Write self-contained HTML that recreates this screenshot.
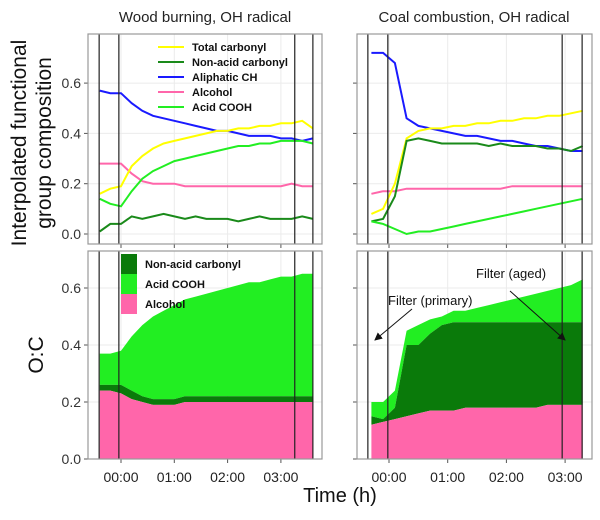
<!DOCTYPE html>
<html><head><meta charset="utf-8"><style>
body{margin:0;background:#fff;}
svg text{font-family:"Liberation Sans",sans-serif;}
</style></head><body>
<svg id="c" width="600" height="515" xmlns="http://www.w3.org/2000/svg"></svg>
<script>
const tL=[-0.4,-0.2,0,0.2,0.4,0.6,0.8,1.0,1.2,1.4,1.6,1.8,2.0,2.2,2.4,2.6,2.8,3.0,3.2,3.4,3.6];
const tR=[-0.3,-0.1,0.1,0.3,0.5,0.7,0.9,1.1,1.3,1.5,1.7,1.9,2.1,2.3,2.5,2.7,2.9,3.1,3.3];
const woodTotalCarbonyl=[0.16,0.18,0.19,0.27,0.31,0.34,0.36,0.37,0.38,0.39,0.40,0.41,0.41,0.42,0.42,0.43,0.43,0.44,0.44,0.45,0.42];
const woodNonAcid=[0.01,0.04,0.04,0.07,0.06,0.07,0.08,0.07,0.06,0.07,0.06,0.06,0.06,0.05,0.06,0.07,0.06,0.06,0.06,0.07,0.06];
const woodAliphatic=[0.57,0.56,0.56,0.52,0.49,0.47,0.46,0.45,0.44,0.43,0.42,0.41,0.41,0.40,0.39,0.39,0.39,0.38,0.38,0.37,0.38];
const woodAlcohol=[0.28,0.28,0.28,0.24,0.21,0.20,0.20,0.20,0.19,0.19,0.19,0.19,0.19,0.19,0.19,0.19,0.19,0.19,0.20,0.19,0.19];
const woodAcid=[0.14,0.12,0.11,0.17,0.22,0.25,0.27,0.29,0.30,0.31,0.32,0.33,0.34,0.35,0.35,0.36,0.36,0.37,0.37,0.37,0.36];
const coalTotalCarbonyl=[0.08,0.10,0.20,0.38,0.41,0.42,0.42,0.43,0.43,0.44,0.44,0.45,0.45,0.46,0.46,0.47,0.47,0.48,0.49];
const coalNonAcid=[0.05,0.06,0.15,0.37,0.38,0.37,0.36,0.36,0.36,0.36,0.35,0.36,0.35,0.35,0.35,0.34,0.34,0.33,0.35];
const coalAliphatic=[0.72,0.72,0.68,0.46,0.43,0.42,0.41,0.40,0.39,0.39,0.38,0.37,0.37,0.36,0.35,0.35,0.34,0.33,0.33];
const coalAlcohol=[0.16,0.17,0.17,0.18,0.18,0.18,0.18,0.18,0.18,0.18,0.18,0.18,0.19,0.19,0.19,0.19,0.19,0.19,0.19];
const coalAcid=[0.05,0.04,0.02,0.00,0.01,0.01,0.02,0.03,0.04,0.05,0.06,0.07,0.08,0.09,0.10,0.11,0.12,0.13,0.14];
const ocWoodAlcohol=[0.24,0.24,0.23,0.21,0.20,0.19,0.19,0.19,0.20,0.20,0.20,0.20,0.20,0.20,0.20,0.20,0.20,0.20,0.20,0.20,0.20];
const ocWoodNonAcid=[0.02,0.02,0.03,0.03,0.02,0.02,0.02,0.02,0.02,0.02,0.02,0.02,0.02,0.02,0.02,0.02,0.02,0.02,0.02,0.02,0.02];
const ocWoodAcid=[0.11,0.11,0.12,0.19,0.25,0.29,0.31,0.33,0.34,0.35,0.36,0.37,0.38,0.39,0.40,0.40,0.41,0.42,0.42,0.43,0.43];
const ocCoalAlcohol=[0.12,0.13,0.14,0.15,0.16,0.17,0.17,0.17,0.18,0.18,0.18,0.18,0.18,0.18,0.18,0.19,0.19,0.19,0.19];
const ocCoalNonAcid=[0.03,0.01,0.04,0.25,0.24,0.27,0.30,0.31,0.30,0.30,0.30,0.30,0.30,0.30,0.30,0.29,0.29,0.29,0.29];
const ocCoalAcid=[0.05,0.06,0.06,0.05,0.07,0.05,0.03,0.04,0.04,0.05,0.06,0.07,0.08,0.09,0.10,0.11,0.12,0.13,0.15];
const yTicks=[0.0,0.2,0.4,0.6];
const xTicks=[0,1,2,3];
const xTickLabels=["00:00","01:00","02:00","03:00"];

const S=document.getElementById('c');const NS="http://www.w3.org/2000/svg";
function mk(tag,at,parent){const e=document.createElementNS(NS,tag);for(const k in at)e.setAttribute(k,at[k]);(parent||S).appendChild(e);return e;}
function txt(x,y,s,at){const e=mk('text',Object.assign({x:x,y:y},at||{}));e.textContent=s;return e;}

const panels={
 wood:{x0:88,x1:322,xz:121,xs:53.3,lines:[-0.41,-0.04,3.26,3.6]},
 coal:{x0:357,x1:592,xz:389,xs:58.7,lines:[-0.36,-0.02,2.95,3.29]}
};
const rTop={y0:34,y1:244,yz:234,ys:251.5}, rBot={y0:251,y1:459,yz:459,ys:285};

function frame(p,r,name,showY,showX){
 const g=mk('g',{});
 
 
 mk('rect',{x:p.x0,y:r.y0,width:p.x1-p.x0,height:r.y1-r.y0,fill:'#fff'},g);
 yTicks.forEach(v=>{const y=r.yz-v*r.ys;mk('line',{x1:p.x0,x2:p.x1,y1:y,y2:y,stroke:'#ebebeb','stroke-width':1},g);
  mk('line',{x1:p.x0-4,x2:p.x0,y1:y,y2:y,stroke:'#555'},g);
  if(showY){const t=txt(p.x0-7,y+5,v.toFixed(1),{'text-anchor':'end','font-size':14,fill:'#333'});}});
 xTicks.forEach((v,i)=>{const x=p.xz+v*p.xs;mk('line',{x1:x,x2:x,y1:r.y0,y2:r.y1,stroke:'#ebebeb'},g);
  mk('line',{x1:x,x2:x,y1:r.y1,y2:r.y1+4,stroke:'#555'},g);
  if(showX){const t=txt(x,r.y1+23,xTickLabels[i],{'text-anchor':'middle','font-size':14,fill:'#222'});}});
 return g;
}
function finish(p,r){
 p.lines.forEach(v=>{const x=p.xz+v*p.xs;const l=mk('line',{x1:x,x2:x,y1:r.y0,y2:r.y1,stroke:'#222','stroke-width':1.2});});
 mk('rect',{x:p.x0,y:r.y0,width:p.x1-p.x0,height:r.y1-r.y0,fill:'none',stroke:'#999','stroke-width':1.2});
}
function line(p,r,ts,vs,color,name){
 const d=ts.map((t,i)=>(i?'L':'M')+(p.xz+t*p.xs).toFixed(1)+','+(r.yz-vs[i]*r.ys).toFixed(1)).join('');
 const e=mk('path',{d:d,fill:'none',stroke:color,'stroke-width':2});
 
 
}
function area(p,r,ts,lo,hi,color,name){
 const up=ts.map((t,i)=>(i?'L':'M')+(p.xz+t*p.xs).toFixed(1)+','+(r.yz-hi[i]*r.ys).toFixed(1)).join('');
 const dn=ts.slice().reverse().map((t,j)=>{const i=ts.length-1-j;return 'L'+(p.xz+t*p.xs).toFixed(1)+','+(r.yz-lo[i]*r.ys).toFixed(1);}).join('');
 const e=mk('path',{d:up+dn+'Z',fill:color});
 
 
}
const C={tot:'#ffff00',non:'#1a8a1a',ali:'#1a1aff',alc:'#ff66aa',acid:'#22ee22'};
frame(panels.wood,rTop,'wood-fg-panel',true,false);
line(panels.wood,rTop,tL,woodAlcohol,C.alc,'wood-alcohol-line');
line(panels.wood,rTop,tL,woodAliphatic,C.ali,'wood-aliphatic-line');
line(panels.wood,rTop,tL,woodTotalCarbonyl,C.tot,'wood-total-carbonyl-line');
line(panels.wood,rTop,tL,woodAcid,C.acid,'wood-acid-line');
line(panels.wood,rTop,tL,woodNonAcid,C.non,'wood-nonacid-line');
finish(panels.wood,rTop);
frame(panels.coal,rTop,'coal-fg-panel',false,false);
line(panels.coal,rTop,tR,coalAlcohol,C.alc,'coal-alcohol-line');
line(panels.coal,rTop,tR,coalAliphatic,C.ali,'coal-aliphatic-line');
line(panels.coal,rTop,tR,coalTotalCarbonyl,C.tot,'coal-total-carbonyl-line');
line(panels.coal,rTop,tR,coalNonAcid,C.non,'coal-nonacid-line');
line(panels.coal,rTop,tR,coalAcid,C.acid,'coal-acid-line');
finish(panels.coal,rTop);
function stack(p,ts,alc,non,acid,pre){
 const z=ts.map(()=>0),a1=alc.slice(),a2=alc.map((v,i)=>v+non[i]),a3=a2.map((v,i)=>v+acid[i]);
 area(p,rBot,ts,a2,a3,C.acid,pre+'-acid-area');
 area(p,rBot,ts,a1,a2,'#0a7a0a',pre+'-nonacid-area');
 area(p,rBot,ts,z,a1,C.alc,pre+'-alcohol-area');
}
frame(panels.wood,rBot,'wood-oc-panel',true,true);
stack(panels.wood,tL,ocWoodAlcohol,ocWoodNonAcid,ocWoodAcid,'wood');
finish(panels.wood,rBot);
frame(panels.coal,rBot,'coal-oc-panel',false,true);
stack(panels.coal,tR,ocCoalAlcohol,ocCoalNonAcid,ocCoalAcid,'coal');
finish(panels.coal,rBot);
</script>
<svg width="600" height="515" style="position:absolute;left:0;top:0" xmlns="http://www.w3.org/2000/svg">
<text x="205" y="22" text-anchor="middle" font-size="15" fill="#222">Wood burning, OH radical</text>
<text x="474" y="22" text-anchor="middle" font-size="15" fill="#222">Coal combustion, OH radical</text>
<g transform="translate(26,143) rotate(-90)">
<text x="0" y="0" text-anchor="middle" font-size="21" fill="#111">Interpolated functional</text>
<text x="0" y="25" text-anchor="middle" font-size="21" fill="#111">group composition</text></g>
<text transform="translate(43,355) rotate(-90)" text-anchor="middle" font-size="21" fill="#111">O:C</text>
<text x="340" y="502" text-anchor="middle" font-size="20" fill="#111">Time (h)</text>
<g font-size="11" font-weight="bold" fill="#111">
<line x1="158" x2="184" y1="47" y2="47" stroke="#ffff00" stroke-width="2"/><text x="192" y="51">Total carbonyl</text>
<line x1="158" x2="184" y1="62" y2="62" stroke="#1a8a1a" stroke-width="2"/><text x="192" y="66">Non-acid carbonyl</text>
<line x1="158" x2="184" y1="77" y2="77" stroke="#1a1aff" stroke-width="2"/><text x="192" y="81">Aliphatic CH</text>
<line x1="158" x2="184" y1="92" y2="92" stroke="#ff66aa" stroke-width="2"/><text x="192" y="96">Alcohol</text>
<line x1="158" x2="184" y1="107" y2="107" stroke="#22ee22" stroke-width="2"/><text x="192" y="111">Acid COOH</text></g>
<g font-size="11" font-weight="bold" fill="#111">
<rect x="121" y="254" width="16" height="20" fill="#0a7a0a"/><text x="145" y="268">Non-acid carbonyl</text>
<rect x="121" y="274" width="16" height="20" fill="#22ee22"/><text x="145" y="288">Acid COOH</text>
<rect x="121" y="294" width="16" height="20" fill="#ff66aa"/><text x="145" y="308">Alcohol</text></g>
<defs><marker id="ar" markerWidth="8" markerHeight="8" refX="7" refY="4" orient="auto"><path d="M0,0L8,4L0,8Z" fill="#111"/></marker></defs>
<text x="388" y="305" font-size="13" fill="#111">Filter (primary)</text>
<line x1="412" y1="309" x2="375" y2="340" stroke="#111" stroke-width="1" marker-end="url(#ar)"/>
<text x="476" y="278" font-size="13" fill="#111">Filter (aged)</text>
<line x1="510" y1="291" x2="565" y2="340" stroke="#111" stroke-width="1" marker-end="url(#ar)"/>
</svg>
</body></html>
